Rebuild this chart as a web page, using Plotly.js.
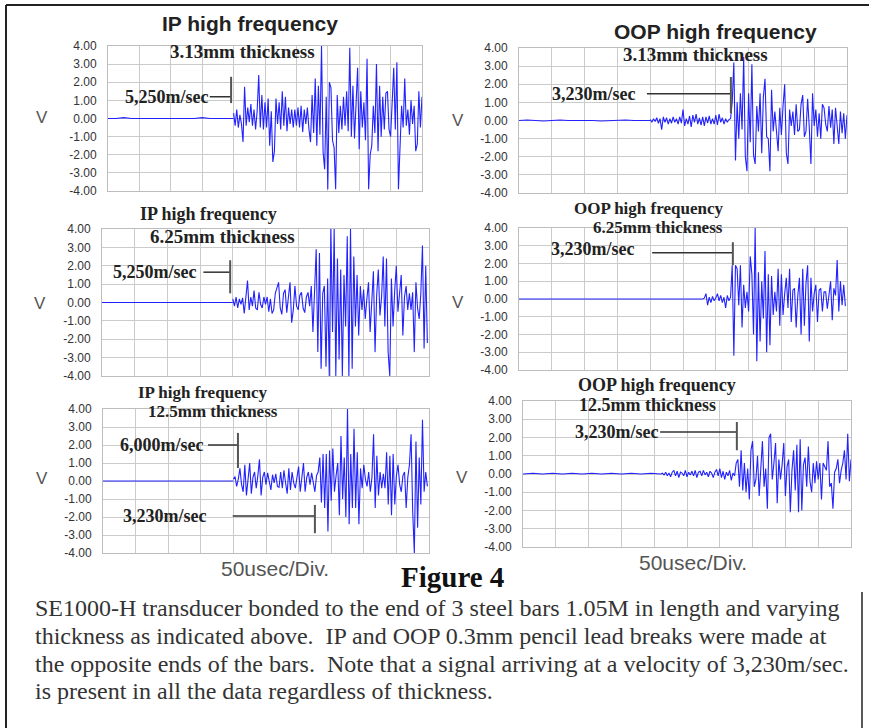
<!DOCTYPE html>
<html><head><meta charset="utf-8">
<script src="https://cdn.plot.ly/plotly-3.0.1.min.js"></script>
<style>html,body{margin:0;padding:0;background:#fff}#chart{width:869px;height:728px}</style>
</head><body><div id="chart"></div>
<script>
// ---------------- DATA (volts, sampled every 2.5 usec) ----------------
const sampleStep = 2.5;            // usec between samples of the signal arrays
const timeRange = [0, 500];        // 10 divisions x 50 usec
const voltTicks = [4, 3, 2, 1, 0, -1, -2, -3, -4];
const voltTickText = ['4.00', '3.00', '2.00', '1.00', '0.00', '-1.00', '-2.00', '-3.00', '-4.00'];

// IP high frequency, 3.13mm
const ip313BaseStep = 12.5;
const ip313Base = [0,0,0.05,0,0,0,0,0,0,0,0,0,0.05,0,0,0,0];
const ip313Start = 200;
const ip313Signal = [
0.3,-0.4,0.5,-0.5,0.2,-0.3,-1.3,1.75,-0.4,0.6,-0.2,0.8,-0.4,0.5,-0.6,0.4,2.4,-0.5,
1.3,-0.6,0.9,-0.5,1.1,-1.5,0.4,-2.4,-1.8,1.1,-0.3,0.9,-0.6,1.5,-0.4,1.2,-0.7,0.6,-0.3,0.5,-0.5,
0.5,-0.4,0.6,-0.5,0.7,-0.75,0.5,-0.3,0.6,-0.6,-1.3,1.3,-0.8,2.2,-1.5,1.8,-0.9,4.0,-1.85,
-2.8,1.2,-3.9,2.0,1.7,-1.2,-1.6,-3.9,1.3,-0.8,0.7,-0.6,1.2,-0.4,1.5,-0.7,3.9,-1.0,1.8,
-1.1,0.8,2.8,-1.7,1.5,-0.5,0.9,-1.2,3.3,-3.9,-2.0,-1.5,0.7,-0.8,3.0,-1.8,1.8,-1.0,1.2,-0.6,1.4,
1.5,-0.6,-1.0,0.9,2.8,-0.6,3.1,-3.9,-1.3,0.7,-0.5,2.2,-0.4,0.5,-0.9,1.0,-0.3,0.7,-1.8,-1.4,1.5,-0.5,1.2,-0.7];

// OOP high frequency, 3.13mm
const oop313BaseStep = 12.5;
const oop313Base = [0,0.03,0,-0.03,0,0.03,0,0,0.03,0,-0.03,0,0,0.03,0,0,0];
const oop313Start = 200;
const oop313Signal = [
0.05,-0.1,0.1,-0.05,0.15,-0.15,0.1,-0.5,0.2,-0.1,0.15,-0.2,0.1,-0.15,0.2,-0.1,0.1,-0.2,0.2,-0.15,
0.6,-0.3,0.1,-0.2,0.25,-0.35,0.3,-0.1,0.35,-0.2,0.15,-0.25,0.2,-0.3,0.2,-0.15,0.25,-0.2,0.1,-0.2,
0.3,-0.25,0.35,-0.1,0.15,-0.2,0.1,-0.1,0.05,0.1,
1.0,3.2,-2.2,1.0,-1.0,1.5,-0.5,3.5,-2.0,-2.8,
1.5,-1.2,3.1,-1.9,-2.4,0.8,-0.6,1.5,-1.8,1.3,
2.3,-0.9,-1.0,-2.8,1.7,-0.6,0.5,-0.4,-1.7,0.7,
-0.8,0.8,2.0,-1.8,-2.4,0.6,-0.3,0.5,-0.8,0.9,
-0.6,-0.5,0.9,1.4,-0.9,-0.6,1.2,-0.4,-2.4,1.5,
-0.3,0.6,-0.9,0.4,-1.0,0.9,0.7,-0.2,-0.6,0.8,
-0.4,0.6,-1.3,0.7,-0.5,-1.3,0.5,-0.7,0.4,-1.0,0.3];

// IP high frequency, 6.25mm
const ip625BaseStep = 12.5;
const ip625Base = [0,0,0,0,0,0,0,0,0,0,0,0,0,0,0,0,0];
const ip625Start = 200;
const ip625Signal = [
0.2,-0.2,0.3,-0.3,0.2,-0.1,0.25,-0.6,0.3,1.2,-0.4,0.3,
-0.2,0.65,-0.3,-0.4,0.55,-0.1,-0.3,0.3,-0.1,0.3,-0.5,0.2,-0.6,-0.4,0.5,0.8,
1.1,-0.3,-0.65,0.5,0.7,-0.55,0.3,1.1,-1.1,-0.4,0.9,-0.2,-0.4,0.4,0.55,-0.3,-0.55,0.3,0.55,-0.2,
0.9,-1.6,0.6,2.9,-2.7,2.7,-3.6,0.5,0.9,-3.5,1.3,-4.0,4.0,-1.6,
4.0,-4.0,2.4,-3.1,1.8,-4.0,1.5,-1.3,3.6,-4.0,4.0,-3.6,2.5,-1.3,1.5,-1.8,0.9,-0.4,
0.7,-0.9,0.2,1.1,-1.6,0.5,1.7,-2.7,0.4,1.8,-0.7,0.3,2.5,-1.3,2.4,-2.7,-4.0,1.3,-1.3,0.6,
2.0,-0.5,0.4,1.5,-1.8,0.3,0.9,-0.4,0.5,-0.4,0.55,-2.7,1.1,-0.3,-0.9,0.5,3.1,-2.5,2.0,-2.2];

// OOP high frequency, 6.25mm
const oop625BaseStep = 20;
const oop625Base = [0,0,0,0,0,0,0,0.04,0,0,0.04,0,0,0,0];
const oop625Start = 280;
const oop625Signal = [
0,0.05,0.3,-0.35,0.1,-0.2,0.15,-0.1,0.05,0.3,-0.1,0.2,-0.2,0.1,-0.5,0.2,-0.1,0.1,
1.9,-3.2,1.9,1.7,-0.35,1.9,-1.6,0.8,-0.5,0.4,-0.7,2.4,1.4,-2.0,4.0,-3.5,1.5,-2.4,1.0,-1.1,
2.7,-3.0,1.4,-2.6,1.3,-0.9,0.4,-0.7,1.7,-1.5,1.4,-0.9,0.3,1.2,-0.5,1.7,-1.3,0.5,0.6,-1.6,
0.2,1.2,-2.0,1.7,-1.5,0.9,1.9,-2.4,1.2,-0.7,0.3,0.8,-1.3,0.5,0.6,-0.7,0.4,0.4,-0.55,0.3,
1.0,-1.2,0.6,0.2,2.2,-0.7,1.0,-0.35,0.8,-0.4];

// IP high frequency, 12.5mm
const ip125BaseStep = 12.5;
const ip125Base = [0,0,0,0,0,0.04,0,0,0,0,0,0.04,0,0,0,0,0];
const ip125Start = 200;
const ip125Signal = [
0.1,0.25,-0.3,0.1,0.7,-0.2,-0.6,0.9,-0.8,0.3,1.0,-0.7,0.2,0.5,-0.4,
0.3,1.2,-0.8,0.2,0.5,-0.2,0.45,-0.1,-0.5,0.35,-0.1,0.4,-0.3,-0.35,0.5,-0.4,0.6,-0.1,-0.7,0.7,-0.5,
0.5,-0.1,-0.4,0.2,0.8,-0.6,0.3,1.0,-0.6,0.2,0.5,-0.2,0.45,-0.1,-0.6,0.3,0.5,1.3,-1.2,1.5,
-1.5,1.5,-2.8,1.7,-1.1,1.8,-0.6,0.3,1.0,-1.9,2.5,-1.0,1.3,-2.0,4.0,-2.4,1.5,-1.5,2.9,-1.5,
1.6,-2.4,0.7,-0.4,0.9,0.1,-0.3,0.5,-0.6,0.2,2.6,-1.5,1.4,-0.8,0.5,-0.4,0.4,-0.4,1.6,-1.3,
1.4,-1.9,1.5,-1.3,0.3,0.9,-0.2,-0.6,0.3,0.5,-1.5,0.2,0.9,2.6,-1.7,-4.0,2.2,-2.6,1.3,-1.3,3.4,-0.6,0.5,-0.3];

// OOP high frequency, 12.5mm
const oop125BaseStep = 15;
const oop125Base = [0,0.04,0,0.04,0,0.04,0,0.04,0,0.04,0,0.04,0,0.04,0];
const oop125Start = 210;
const oop125Signal = [
0,0.05,-0.05,0.1,-0.1,0.05,-0.15,0.1,0.2,-0.1,0.15,-0.2,0.1,0.05,-0.1,0.2,-0.15,0.1,-0.05,0.15,
-0.1,0.2,-0.2,0.1,0.15,-0.1,0.2,-0.05,0.1,-0.15,0.15,0.05,-0.2,0.1,0.25,-0.1,0.3,-0.2,0.15,-0.3,
0.1,-0.1,0.2,-0.35,0.05,-0.1,
0.6,0.8,-0.7,1.3,-0.9,0.6,-1.0,0.3,-1.4,1.3,1.8,-0.7,-0.3,1.0,-1.2,0.4,1.8,-0.7,0.3,-1.9,
2.0,2.2,-0.3,0.6,1.7,-1.6,0.8,-0.3,0.5,1.7,-1.2,0.4,0.8,-2.1,0.2,1.3,-0.9,1.6,-2.1,1.9,
-2.0,0.5,0.9,-0.7,1.5,-0.4,-1.0,0.6,-0.5,0.7,-0.3,0.6,-1.4,0.6,0.4,0.2,1.8,-0.7,-0.5,-1.9,
0.1,0.3,0.8,-0.5,0.2,0.6,1.3,-0.3,2.2,-0.4,0.8];

// arrival-time markers (usec) with their label levels (V)
const markerLabels   = ['5,250m/sec', '3,230m/sec', '5,250m/sec', '3,230m/sec', '6,000m/sec', '3,230m/sec', '3,230m/sec'];
const markerPanel    = [0, 1, 2, 3, 4, 4, 5];
const markerTime     = [196, 323, 196, 326, 207, 325, 326];
const markerFrom     = [162, 195, 155, 203, 161, 199, 209];
const markerLevel    = [1.2, 1.47, 1.65, 2.6, 2.0, -1.94, 2.3];
const markerLow      = [0.85, 0.4, 0.5, 1.9, 0.72, -2.9, 1.3];
const markerHigh     = [2.3, 2.4, 2.3, 3.2, 2.67, -1.33, 2.85];

const panelTitles = ['IP high frequency', 'OOP high frequency', 'IP high frequency', 'OOP high frequency', 'IP high frequency', 'OOP high frequency'];
const panelThickness = ['3.13mm thickness', '3.13mm thickness', '6.25mm thickness', '6.25mm thickness', '12.5mm thickness', '12.5mm thickness'];

const captionLines = [
  'SE1000-H transducer bonded to the end of 3 steel bars 1.05M in length and varying',
  'thickness as indicated above.  IP and OOP 0.3mm pencil lead breaks were made at',
  'the opposite ends of the bars.  Note that a signal arriving at a velocity of 3,230m/sec.',
  'is present in all the data regardless of thickness.'
];

// ---------------- LAYOUT ----------------
const W = 869, H = 728;
const px = x => x / W;
const py = y => 1 - y / H;

const bases = [ip313Base, oop313Base, ip625Base, oop625Base, ip125Base, oop125Base];
const baseSteps = [ip313BaseStep, oop313BaseStep, ip625BaseStep, oop625BaseStep, ip125BaseStep, oop125BaseStep];
const signals = [ip313Signal, oop313Signal, ip625Signal, oop625Signal, ip125Signal, oop125Signal];
const starts = [ip313Start, oop313Start, ip625Start, oop625Start, ip125Start, oop125Start];

// plot boxes in pixels: [left, top, right, bottom]
const boxes = [
  [108, 46, 422, 191], [519, 48, 847, 193],
  [102, 229, 429, 376], [519, 228, 847, 370],
  [103, 409, 429, 553], [523, 401, 851, 547]
];
const titlePos = [[250, 24], [715, 32], [208, 214], [648, 208], [203, 392], [657, 385]];
const titleSize = [21, 21, 18, 17, 17, 18];
const titleSans = [true, true, false, false, false, false];
const thickPos = [[242, 52], [695, 55], [222, 237], [658, 227], [213, 411], [647, 405]];
const thickSize = [19, 19, 19, 17, 17, 18];
const markerTextPos = [[166, 97], [593, 94], [154, 272], [592, 249], [161, 445], [164, 516], [616, 432]];
const vPos = [[42, 118], [458, 121], [40, 303], [458, 302], [42, 478], [462, 477]];

const lineColor = '#2222ff';
const traces = [];
const layout = {
  width: W, height: H, margin: {l: 0, r: 0, t: 0, b: 0},
  paper_bgcolor: '#ffffff', plot_bgcolor: '#ffffff',
  showlegend: false, annotations: [], shapes: []
};

const serif = 'Liberation Serif, Times New Roman, serif';
const sans = 'Liberation Sans, Arial, sans-serif';

for (let i = 0; i < 6; i++) {
  const n = i === 0 ? '' : String(i + 1);
  const b = boxes[i];
  traces.push({
    type: 'scatter', mode: 'lines', xaxis: 'x' + n, yaxis: 'y' + n,
    x0: 0, dx: baseSteps[i], y: bases[i],
    line: {color: lineColor, width: 1.1}, hoverinfo: 'skip'
  });
  traces.push({
    type: 'scatter', mode: 'lines', xaxis: 'x' + n, yaxis: 'y' + n,
    x0: starts[i], dx: sampleStep, y: signals[i],
    line: {color: lineColor, width: 1.1}, hoverinfo: 'skip'
  });
  layout['xaxis' + n] = {
    domain: [px(b[0]), px(b[2])], range: timeRange, anchor: 'y' + n,
    dtick: 50, tick0: 0, showticklabels: false, ticks: '',
    showgrid: true, gridcolor: '#cbcbcb', gridwidth: 1, zeroline: false,
    showline: true, linecolor: '#bdbdbd', linewidth: 1, mirror: true, fixedrange: true
  };
  layout['yaxis' + n] = {
    domain: [py(b[3]), py(b[1])], range: [-4, 4], anchor: 'x' + n,
    tickvals: voltTicks, ticktext: voltTickText, ticks: '',
    ticklabelstandoff: 8,
    tickfont: {family: sans, size: 12, color: '#333333'},
    showgrid: true, gridcolor: '#cbcbcb', gridwidth: 1, zeroline: false,
    showline: true, linecolor: '#bdbdbd', linewidth: 1, mirror: true, fixedrange: true
  };
  layout.annotations.push({
    xref: 'paper', yref: 'paper', x: px(titlePos[i][0]), y: py(titlePos[i][1]),
    xanchor: 'center', yanchor: 'middle', showarrow: false, text: '<b>' + panelTitles[i] + '</b>',
    borderpad: 0,
    font: {family: titleSans[i] ? sans : serif, size: titleSize[i], color: '#222'}
  });
  layout.annotations.push({
    xref: 'paper', yref: 'paper', x: px(thickPos[i][0]), y: py(thickPos[i][1]),
    xanchor: 'center', yanchor: 'middle', showarrow: false, text: '<b>' + panelThickness[i] + '</b>',
    borderpad: 0,
    font: {family: serif, size: thickSize[i], color: '#222'}
  });
  layout.annotations.push({
    xref: 'paper', yref: 'paper', x: px(vPos[i][0]), y: py(vPos[i][1]),
    xanchor: 'center', yanchor: 'middle', showarrow: false, text: 'V',
    font: {family: sans, size: 17, color: '#555'}
  });
}

for (let k = 0; k < markerLabels.length; k++) {
  const p = markerPanel[k];
  const n = p === 0 ? '' : String(p + 1);
  layout.shapes.push({
    type: 'line', xref: 'x' + n, yref: 'y' + n,
    x0: markerFrom[k], x1: markerTime[k], y0: markerLevel[k], y1: markerLevel[k],
    line: {color: '#333333', width: 1.5}
  });
  layout.shapes.push({
    type: 'line', xref: 'x' + n, yref: 'y' + n,
    x0: markerTime[k], x1: markerTime[k], y0: markerLow[k], y1: markerHigh[k],
    line: {color: '#555555', width: 2}
  });
  layout.annotations.push({
    xref: 'paper', yref: 'paper', x: px(markerTextPos[k][0]), y: py(markerTextPos[k][1]),
    xanchor: 'center', yanchor: 'middle', showarrow: false, text: '<b>' + markerLabels[k] + '</b>',
    font: {family: serif, size: 18, color: '#222'}
  });
}

// axis captions and figure text
layout.annotations.push(
  {xref: 'paper', yref: 'paper', x: px(275), y: py(568), xanchor: 'center', yanchor: 'middle', showarrow: false,
   text: '50usec/Div.', font: {family: sans, size: 21, color: '#555'}},
  {xref: 'paper', yref: 'paper', x: px(693), y: py(562), xanchor: 'center', yanchor: 'middle', showarrow: false,
   text: '50usec/Div.', font: {family: sans, size: 21, color: '#555'}},
  {xref: 'paper', yref: 'paper', x: px(452), y: py(577), xanchor: 'center', yanchor: 'middle', showarrow: false,
   text: '<b>Figure 4</b>', font: {family: serif, size: 29, color: '#111'}}
);
const captionY = [608, 636, 664, 691];
captionLines.forEach((t, i) => {
  layout.annotations.push({
    xref: 'paper', yref: 'paper', x: px(33), y: py(captionY[i]), xanchor: 'left', yanchor: 'middle',
    showarrow: false, text: t.replace(/  /g, ' &nbsp;'), font: {family: serif, size: 24, color: '#333'}
  });
});

// page frame
layout.shapes.push(
  {type: 'line', xref: 'paper', yref: 'paper', x0: px(6), x1: 1, y0: py(5), y1: py(5), line: {color: '#222', width: 2}},
  {type: 'line', xref: 'paper', yref: 'paper', x0: px(6), x1: px(6), y0: py(5), y1: 0, line: {color: '#222', width: 2}},
  {type: 'line', xref: 'paper', yref: 'paper', x0: px(862), x1: px(862), y0: py(592), y1: 0, line: {color: '#222', width: 1.5}}
);

Plotly.newPlot('chart', traces, layout, {staticPlot: true, displayModeBar: false});
</script></body></html>
